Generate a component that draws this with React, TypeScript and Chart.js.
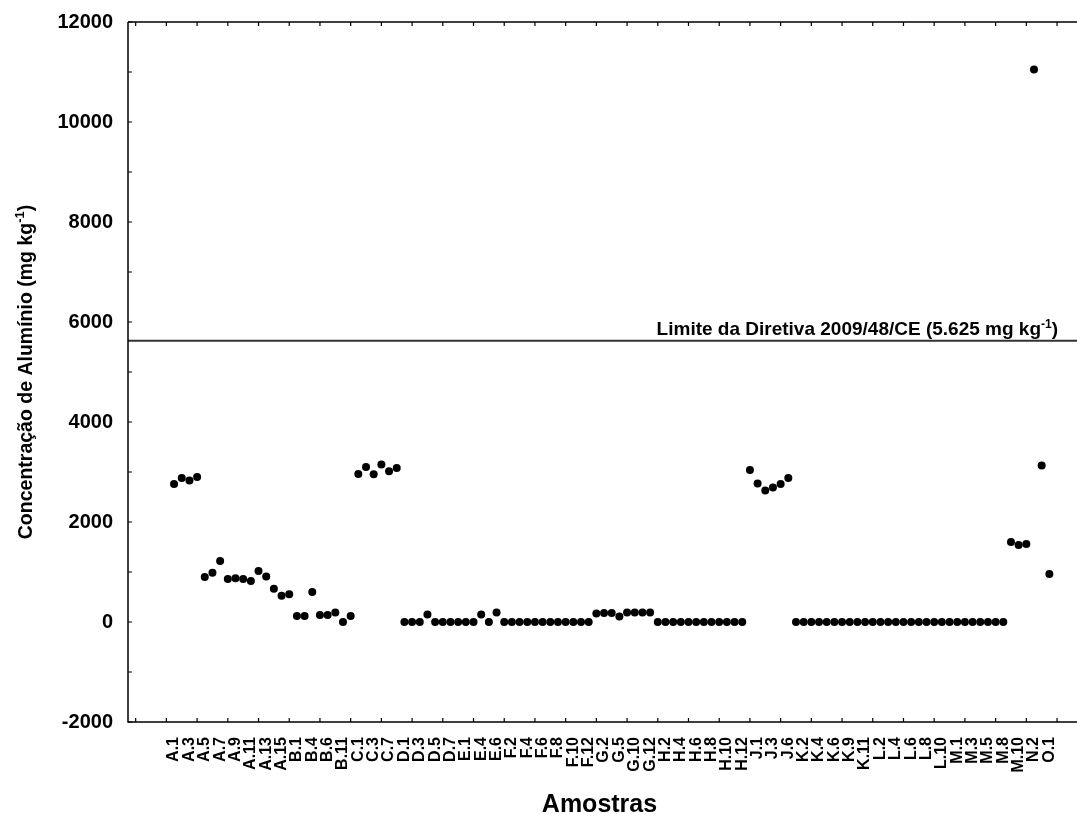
import React, { useEffect, useRef } from "react";
import { Chart, registerables } from "chart.js";

Chart.register(...registerables);

// Sample names (one per point, in plotting order)
const SAMPLES: string[] = [
  "A.1", "A.2", "A.3", "A.4", "A.5", "A.6", "A.7", "A.8", "A.9", "A.10", "A.11", "A.12", "A.13", "A.14", "A.15", "A.16",
  "B.1", "B.3", "B.4", "B.5", "B.6", "B.10", "B.11", "B.12",
  "C.1", "C.2", "C.3", "C.6", "C.7", "C.8",
  "D.1", "D.2", "D.3", "D.4", "D.5", "D.6", "D.7", "D.8",
  "E.1", "E.3", "E.4", "E.5", "E.6", "F.1",
  "F.2", "F.3", "F.4", "F.5", "F.6", "F.7", "F.8", "F.9", "F.10", "F.11", "F.12", "G.1",
  "G.2", "G.4", "G.5", "G.9", "G.10", "G.11", "G.12", "H.1",
  "H.2", "H.3", "H.4", "H.5", "H.6", "H.7", "H.8", "H.9", "H.10", "H.11", "H.12", "I.1",
  "J.1", "J.2", "J.3", "J.5", "J.6", "K.1",
  "K.2", "K.3", "K.4", "K.5", "K.6", "K.7", "K.9", "K.10", "K.11", "K.12",
  "L.2", "L.3", "L.4", "L.5", "L.6", "L.7", "L.8", "L.9", "L.10", "L.11",
  "M.1", "M.2", "M.3", "M.4", "M.5", "M.6", "M.8", "M.9", "M.10", "N.1", "N.2", "N.3", "O.1",
];

// Aluminium concentration (mg kg-1)
const ALUMINIO: number[] = [
  2760, 2880, 2830, 2900, 900, 985, 1220, 860, 875, 860, 820, 1020, 910, 665, 525, 555,
  120, 120, 600, 140, 140, 190, 0, 120,
  2960, 3100, 2955, 3150, 3015, 3080,
  0, 0, 0, 150, 0, 0, 0, 0,
  0, 0, 150, 0, 190, 0,
  0, 0, 0, 0, 0, 0, 0, 0, 0, 0, 0, 170,
  180, 180, 110, 190, 190, 190, 190, 0,
  0, 0, 0, 0, 0, 0, 0, 0, 0, 0, 0, 3040,
  2770, 2630, 2690, 2760, 2880, 0,
  0, 0, 0, 0, 0, 0, 0, 0, 0, 0,
  0, 0, 0, 0, 0, 0, 0, 0, 0, 0,
  0, 0, 0, 0, 0, 0, 0, 1600, 1540, 1560, 11050, 3130, 960,
];

const LIMITE = 5625;
const LIMITE_TEXT = "Limite da Diretiva 2009/48/CE (5.625 mg kg";
const Y_TITLE = "Concentração de Alumínio (mg kg";
const X_TITLE = "Amostras";
const Y_MIN = -2000;
const Y_MAX = 12000;
const Y_STEP = 2000;
const X_MIN = -6;
const X_MAX = 117.6;

const FONT = "'Liberation Sans', Arial, Helvetica, sans-serif";

const framePlugin = {
  id: "framePlugin",
  afterDraw(chart: any) {
    const { ctx, chartArea } = chart;
    const { left, right, top, bottom } = chartArea;
    const x = chart.scales.x;
    const y = chart.scales.y;
    ctx.save();
    ctx.strokeStyle = "#000";
    ctx.lineWidth = 1.5;
    ctx.beginPath();
    ctx.moveTo(left, top);
    ctx.lineTo(left, bottom);
    ctx.lineTo(right + 2, bottom);
    ctx.moveTo(left, top);
    ctx.lineTo(right + 2, top);
    ctx.stroke();

    ctx.lineWidth = 1.2;
    ctx.beginPath();
    for (let v = Y_MIN; v <= Y_MAX; v += Y_STEP / 2) {
      const py = y.getPixelForValue(v);
      ctx.moveTo(left, py);
      ctx.lineTo(left + 4, py);
    }
    for (let i = -5; i <= X_MAX; i += 4) {
      const px = x.getPixelForValue(i);
      ctx.moveTo(px, bottom);
      ctx.lineTo(px, bottom - 4);
      ctx.moveTo(px, top);
      ctx.lineTo(px, top + 4);
    }
    ctx.stroke();

    // limit label
    const ly = y.getPixelForValue(LIMITE);
    const mainFont = `bold 19px ${FONT}`;
    const supFont = `bold 12px ${FONT}`;
    ctx.fillStyle = "#000";
    ctx.textBaseline = "alphabetic";
    ctx.textAlign = "left";
    ctx.font = mainFont;
    const w1 = ctx.measureText(LIMITE_TEXT).width;
    const wClose = ctx.measureText(")").width;
    ctx.font = supFont;
    const wSup = ctx.measureText("-1").width;
    const endX = 1058;
    const startX = endX - w1 - wSup - wClose;
    const by = ly - 6;
    ctx.font = mainFont;
    ctx.fillText(LIMITE_TEXT, startX, by);
    ctx.font = supFont;
    ctx.fillText("-1", startX + w1, by - 7);
    ctx.font = mainFont;
    ctx.fillText(")", startX + w1 + wSup, by);

    // x title
    ctx.font = `bold 25px ${FONT}`;
    ctx.textAlign = "center";
    ctx.fillText(X_TITLE, (left + right) / 2 - 3, 812);
    ctx.textAlign = "left";

    // y title (rotated, with superscript)
    const cy = (top + bottom) / 2;
    ctx.translate(27, cy);
    ctx.rotate(-Math.PI / 2);
    const tFont = `bold 19.5px ${FONT}`;
    const tSup = `bold 13px ${FONT}`;
    ctx.font = tFont;
    const t1 = ctx.measureText(Y_TITLE).width;
    const tc = ctx.measureText(")").width;
    ctx.font = tSup;
    const ts = ctx.measureText("-1").width;
    const total = t1 + ts + tc;
    ctx.textBaseline = "middle";
    const sx = -total / 2;
    ctx.font = tFont;
    ctx.fillText(Y_TITLE, sx, 0);
    ctx.font = tSup;
    ctx.fillText("-1", sx + t1, -7);
    ctx.font = tFont;
    ctx.fillText(")", sx + t1 + ts, 0);
    ctx.restore();
  },
};

export default function App() {
  const canvasRef = useRef<HTMLCanvasElement | null>(null);

  useEffect(() => {
    if (!canvasRef.current) return;
    const evenIdx = SAMPLES.map((_, i) => i).filter((i) => i % 2 === 0);
    const chart = new Chart(canvasRef.current, {
      type: "scatter",
      data: {
        datasets: [
          {
            type: "line",
            data: [
              { x: X_MIN, y: LIMITE },
              { x: X_MAX, y: LIMITE },
            ],
            borderColor: "#333",
            borderWidth: 1.8,
            pointRadius: 0,
          } as any,
          {
            type: "scatter",
            data: ALUMINIO.map((v, i) => ({ x: i, y: v })),
            backgroundColor: "#000",
            borderColor: "#000",
            borderWidth: 0,
            pointRadius: 4,
          },
        ],
      },
      options: {
        animation: false,
        responsive: true,
        maintainAspectRatio: false,
        layout: { padding: { top: 22, right: 0, left: 0, bottom: 0 } },
        plugins: { legend: { display: false }, tooltip: { enabled: false } },
        scales: {
          x: {
            type: "linear",
            min: X_MIN,
            max: X_MAX,
            grid: { display: false, drawTicks: false },
            border: { display: false },
            afterBuildTicks: (scale: any) => {
              scale.ticks = evenIdx.map((v) => ({ value: v }));
            },
            afterFit: (scale: any) => {
              scale.height = 92;
              scale.paddingLeft = 0;
              scale.paddingRight = 0;
            },
            ticks: {
              autoSkip: false,
              minRotation: 90,
              maxRotation: 90,
              padding: 15,
              color: "#000",
              font: { family: FONT, size: 16, weight: "bold" },
              callback: (value: any) => SAMPLES[Number(value)] ?? "",
            },
            title: { display: false },
          },
          y: {
            type: "linear",
            min: Y_MIN,
            max: Y_MAX,
            grid: { display: false, drawTicks: false },
            border: { display: false },
            afterFit: (scale: any) => {
              scale.width = 128;
              scale.paddingTop = 0;
              scale.paddingBottom = 0;
            },
            ticks: {
              stepSize: Y_STEP,
              padding: 15,
              color: "#000",
              font: { family: FONT, size: 20, weight: "bold" },
              callback: (value: any) => String(value),
            },
          },
        },
      },
      plugins: [framePlugin],
    });
    return () => chart.destroy();
  }, []);

  return (
    <div style={{ position: "absolute", left: 0, top: 0, width: 1077, height: 814, overflow: "hidden", background: "#fff" }}>
      <div style={{ position: "relative", width: 1081, height: 814 }}>
        <canvas ref={canvasRef} />
      </div>
    </div>
  );
}
